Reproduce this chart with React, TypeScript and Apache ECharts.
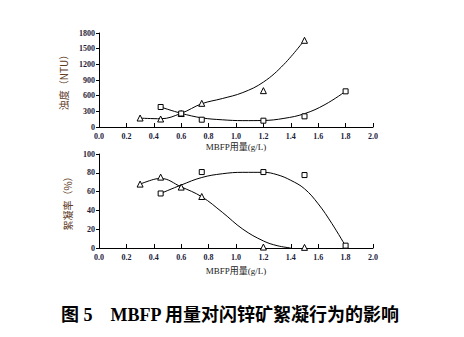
import React, { useEffect, useRef } from "react";
import * as echarts from "echarts";

// Measured points
const triX = [0.3, 0.45, 0.6, 0.75, 1.2, 1.5];
const triTurb = [172, 153, 258, 453, 696, 1660];
const sqX = [0.45, 0.6, 0.75, 1.2, 1.5, 1.8];
const sqTurb = [383, 258, 140, 121, 204, 683];
const triFloc = [68, 75.4, 64.8, 54.8, 1, 0.7];
const sqFlocX = [0.45, 0.75, 1.2, 1.5, 1.8];
const sqFloc = [58, 80.8, 80.8, 77.6, 2.5];

// Fitted curves
const fitTriTurbX = [0.3, 0.45, 0.6, 0.75, 0.9, 1.05, 1.2, 1.35, 1.5];
const fitTriTurb = [170, 158, 262, 445, 545, 660, 860, 1200, 1665];
const fitSqTurbX = [0.45, 0.6, 0.75, 0.9, 1.05, 1.2, 1.35, 1.5, 1.65, 1.8];
const fitSqTurb = [383, 262, 175, 138, 122, 125, 165, 255, 430, 683];
const fitTriFlocX = [0.3, 0.4, 0.45, 0.6, 0.75, 0.9, 1.05, 1.2, 1.3, 1.4];
const fitTriFloc = [68, 73, 74, 65, 54.5, 38, 20, 7.5, 2.5, 0];
const fitSqFlocX = [0.45, 0.6, 0.75, 0.9, 1.05, 1.2, 1.3, 1.4, 1.5, 1.6, 1.7, 1.8];
const fitSqFloc = [58, 67, 75, 79, 80.5, 80.5, 78, 72, 63, 47, 26, 2];

const xAxisName = "MBFP用量(g/L)";
const yTopName = "浊度（NTU）";
const yBottomName = "絮凝率（%）";
const titleText = "图 5\u2003MBFP 用量对闪锌矿絮凝行为的影响";

const zip = (xs: number[], ys: number[]) => xs.map((x, i) => [x, ys[i]]);

const serif = "'Liberation Serif', 'Times New Roman', 'Noto Sans CJK SC', serif";
const labelColor = "#1c1c3a";
const nameColor = "#5e3a1e";

export default function App() {
  const ref = useRef<HTMLDivElement>(null);
  useEffect(() => {
    if (!ref.current) return;
    const chart = echarts.init(ref.current, undefined, { renderer: "svg" });
    const xAxisBase = (gridIndex: number, nameGap: number) => ({
      type: "value",
      gridIndex,
      min: 0,
      max: 2,
      interval: 0.2,
      name: xAxisName,
      nameLocation: "middle",
      nameGap,
      nameTextStyle: { fontFamily: serif, fontSize: 9, color: "#222" },
      axisLine: { show: true, lineStyle: { color: "#000", width: 1 } },
      axisTick: { show: true, inside: true, length: 4, lineStyle: { color: "#000" } },
      axisLabel: {
        fontFamily: serif,
        fontSize: 8,
        fontWeight: "bold",
        color: labelColor,
        margin: 5,
        formatter: (v: number) => v.toFixed(1),
      },
      splitLine: { show: false },
    });
    const yAxisBase = (gridIndex: number, max: number, interval: number, name: string, nameGap: number) => ({
      type: "value",
      gridIndex,
      min: 0,
      max,
      interval,
      name,
      nameLocation: "middle",
      nameGap,
      nameRotate: 90,
      nameTextStyle: { fontFamily: "'Noto Sans CJK SC', serif", fontSize: 10, color: nameColor },
      axisLine: { show: true, lineStyle: { color: "#000", width: 1 } },
      axisTick: { show: true, inside: false, length: 3, lineStyle: { color: "#000" } },
      axisLabel: {
        fontFamily: serif,
        fontSize: 8,
        fontWeight: "bold",
        color: labelColor,
        margin: 4,
        formatter: (v: number) => String(v),
      },
      splitLine: { show: false },
    });
    const lineS = (xi: number, data: number[][]) => ({
      type: "line",
      xAxisIndex: xi,
      yAxisIndex: xi,
      data,
      smooth: 0.4,
      showSymbol: false,
      symbol: "none",
      lineStyle: { color: "#000", width: 1 },
      silent: true,
    });
    const scat = (xi: number, data: number[][], symbol: string, size: number) => ({
      type: "scatter",
      xAxisIndex: xi,
      yAxisIndex: xi,
      data,
      symbol,
      symbolSize: size,
      itemStyle: { color: "#fff", borderColor: "#000", borderWidth: 1, opacity: 1 },
      z: 5,
    });
    chart.setOption({
      animation: false,
      backgroundColor: "#fff",
      grid: [
        { left: 99, right: 91, top: 33, height: 94 },
        { left: 99, right: 91, top: 154, height: 94 },
      ],
      xAxis: [xAxisBase(0, 15), xAxisBase(1, 18)],
      yAxis: [
        yAxisBase(0, 1800, 300, yTopName, 20),
        yAxisBase(1, 100, 20, yBottomName, 17),
      ],
      series: [
        lineS(0, zip(fitTriTurbX, fitTriTurb)),
        lineS(0, zip(fitSqTurbX, fitSqTurb)),
        lineS(1, zip(fitTriFlocX, fitTriFloc)),
        lineS(1, zip(fitSqFlocX, fitSqFloc)),
        scat(0, zip(triX, triTurb), "triangle", 6),
        scat(0, zip(sqX, sqTurb), "rect", 5),
        scat(1, zip(triX, triFloc), "triangle", 6),
        scat(1, zip(sqFlocX, sqFloc), "rect", 5),
      ],
      graphic: [
        {
          type: "text",
          x: 230,
          y: 315,
          style: {
            text: titleText,
            fontFamily: "'Liberation Serif', 'Noto Sans CJK SC', serif",
            fontSize: 18,
            fontWeight: "bold",
            fill: "#000",
            align: "center",
            verticalAlign: "middle",
          },
        },
      ],
    });
    return () => chart.dispose();
  }, []);
  return (
    <div
      ref={ref}
      style={{ position: "fixed", left: 0, top: 0, width: 464, height: 337, background: "#fff" }}
    />
  );
}
